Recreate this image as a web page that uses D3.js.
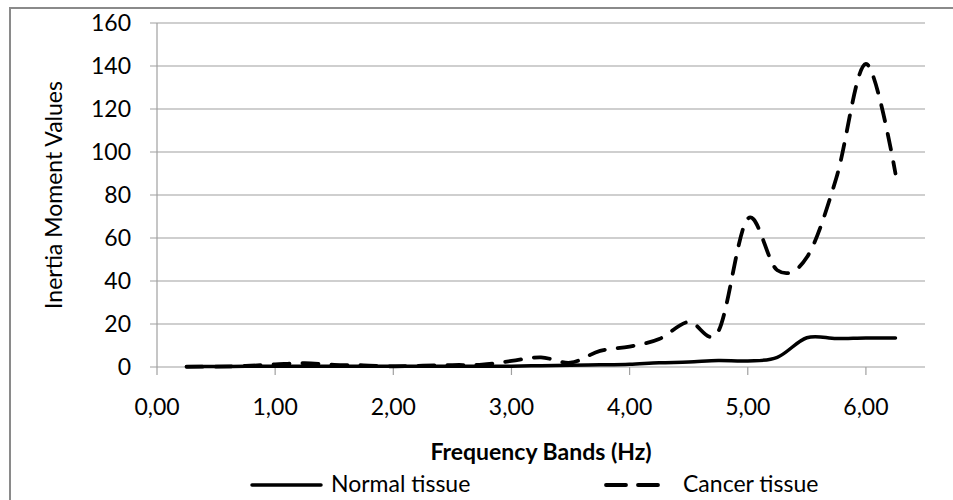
<!DOCTYPE html>
<html>
<head>
<meta charset="utf-8">
<script src="https://cdn.jsdelivr.net/npm/d3@7"></script>
<style>
  body { margin: 0; background: #fff; }
  text { font-family: Lato, "Liberation Sans", sans-serif; fill: #000; }
</style>
</head>
<body>
<div id="chart"></div>
<script>
// frequency bands (Hz)
const freqs = [0.25, 0.5, 0.75, 1.0, 1.25, 1.5, 1.75, 2.0, 2.25, 2.5, 2.75, 3.0, 3.25,
               3.5, 3.75, 4.0, 4.25, 4.5, 4.75, 5.0, 5.25, 5.5, 5.75, 6.0, 6.25];
const normalTissue = [0.2, 0.2, 0.3, 0.3, 0.3, 0.3, 0.3, 0.3, 0.3, 0.3, 0.3, 0.4, 0.6,
                      0.8, 1.0, 1.3, 2.0, 2.3, 3.0, 2.8, 4.5, 13.6, 13.2, 13.5, 13.5];
const cancerTissue = [0.1, 0.2, 0.5, 1.2, 1.8, 1.0, 0.8, 0.3, 0.6, 0.9, 1.1, 2.8, 4.5,
                      2.0, 7.5, 9.5, 13, 21, 16.5, 69, 45, 51, 88, 141, 90];
const xTicks = [0, 1, 2, 3, 4, 5, 6];
const yTicks = [0, 20, 40, 60, 80, 100, 120, 140, 160];
const seriesNames = ['Normal tissue', 'Cancer tissue'];

window.onload = init;

function init()
{
    const width = 953;
    const height = 500;
    const svg = d3.select('#chart').append('svg').attr('width', width).attr('height', height);

    // chart frame (right and bottom sides run off the picture)
    svg.append('rect').attr('x', 10).attr('y', 8).attr('width', 1000).attr('height', 600)
        .attr('fill', 'none').attr('stroke', '#8a8a8a').attr('stroke-width', 2);

    const x = d3.scaleLinear().domain([0, 6.5]).range([157, 925]);
    const y = d3.scaleLinear().domain([0, 160]).range([367, 23]);

    // gridlines
    svg.append('g').selectAll('line').data(yTicks).enter().append('line')
        .attr('x1', 150).attr('x2', 925)
        .attr('y1', d => y(d)).attr('y2', d => y(d))
        .attr('stroke', '#a0a0a0').attr('stroke-width', 1.2);

    // y axis
    svg.append('line').attr('x1', x(0)).attr('x2', x(0)).attr('y1', y(0)).attr('y2', y(160))
        .attr('stroke', '#a0a0a0').attr('stroke-width', 1.2);
    svg.append('g').selectAll('text').data(yTicks).enter().append('text')
        .attr('x', 131).attr('y', d => y(d) + 8)
        .attr('text-anchor', 'end').attr('font-size', 23)
        .text(d => d);

    // x axis
    svg.append('g').selectAll('line').data(xTicks).enter().append('line')
        .attr('x1', d => x(d)).attr('x2', d => x(d))
        .attr('y1', y(0)).attr('y2', y(0) + 8)
        .attr('stroke', '#a0a0a0').attr('stroke-width', 1.2);
    svg.append('g').selectAll('text').data(xTicks).enter().append('text')
        .attr('x', d => x(d)).attr('y', 415)
        .attr('text-anchor', 'middle').attr('font-size', 23)
        .text(d => d3.format('.2f')(d).replace('.', ','));

    // axis titles
    svg.append('text').attr('transform', 'translate(62,195) rotate(-90)')
        .attr('text-anchor', 'middle').attr('font-size', 23)
        .text('Inertia Moment Values');
    svg.append('text').attr('x', 541).attr('y', 460)
        .attr('text-anchor', 'middle').attr('font-size', 23).attr('font-weight', 'bold')
        .text('Frequency Bands (Hz)');

    const line = d3.line().curve(d3.curveCatmullRom.alpha(0))
        .x((d, i) => x(freqs[i])).y(d => y(d));

    svg.append('path').datum(normalTissue).attr('d', line)
        .attr('fill', 'none').attr('stroke', '#000').attr('stroke-width', 3.5)
        .attr('stroke-linecap', 'round');
    svg.append('path').datum(cancerTissue).attr('d', line)
        .attr('fill', 'none').attr('stroke', '#000').attr('stroke-width', 3.8)
        .attr('stroke-linecap', 'round').attr('stroke-dasharray', '16,13');

    // legend
    const legend = svg.append('g');
    legend.append('line').attr('x1', 252).attr('x2', 321).attr('y1', 485).attr('y2', 485)
        .attr('stroke', '#000').attr('stroke-width', 3.5).attr('stroke-linecap', 'round');
    legend.append('text').attr('x', 331).attr('y', 492).attr('font-size', 23).text(seriesNames[0]);
    legend.append('line').attr('x1', 606).attr('x2', 658).attr('y1', 485).attr('y2', 485)
        .attr('stroke', '#000').attr('stroke-width', 3.8).attr('stroke-linecap', 'round')
        .attr('stroke-dasharray', '20,12');
    legend.append('text').attr('x', 683).attr('y', 492).attr('font-size', 23).text(seriesNames[1]);
}
</script>
</body>
</html>
